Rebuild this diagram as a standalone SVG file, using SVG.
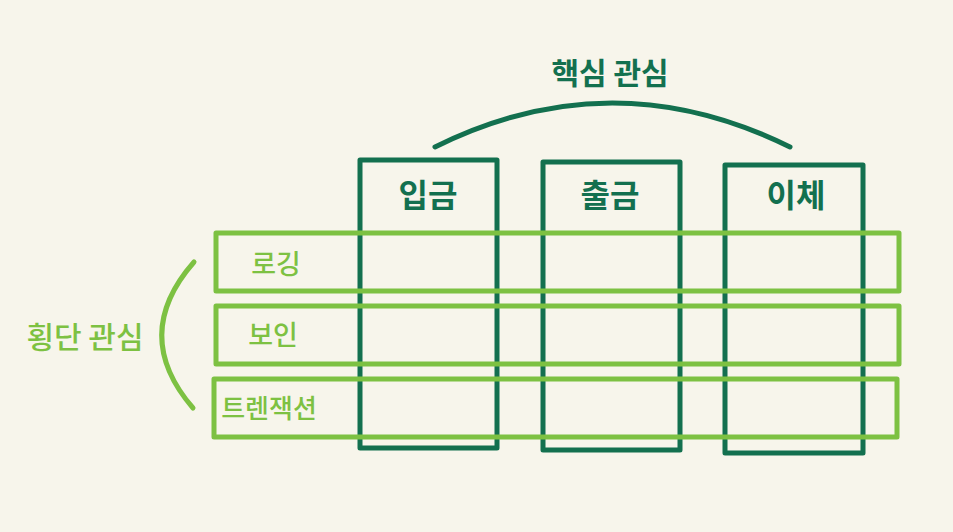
<svg xmlns="http://www.w3.org/2000/svg" width="953" height="532" viewBox="0 0 953 532">
<style>
.col{fill:none;stroke:#13704f;stroke-width:5;stroke-linejoin:round}
.row{fill:none;stroke:#7dc142;stroke-width:5;stroke-linejoin:round}
.dt{font-family:"Noto Sans CJK KR",sans-serif;font-weight:700;fill:#13704f;text-anchor:middle}
.lt{font-family:"Noto Sans CJK KR",sans-serif;font-weight:500;fill:#7dc142;text-anchor:middle}
</style>
<rect width="953" height="532" fill="#f7f5eb"/>
<g id="connectors">
<path d="M435,147 Q612,59 790,147" fill="none" stroke="#13704f" stroke-width="5" stroke-linecap="round"/>
<path d="M194,262 Q130,335 193,408" fill="none" stroke="#7dc142" stroke-width="5" stroke-linecap="round"/>
</g>
<g id="core-label"><text class="dt" x="610" y="84" font-size="30">핵심 관심</text></g>
<g id="cross-label"><text class="lt" x="85" y="348" font-size="30" font-weight="700">횡단 관심</text></g>
<g id="col-deposit"><rect class="col" x="360" y="160" width="137" height="288"/><text class="dt" x="428" y="207" font-size="32">입금</text></g>
<g id="col-withdraw"><rect class="col" x="543" y="162" width="137" height="288"/><text class="dt" x="610" y="207" font-size="32">출금</text></g>
<g id="col-transfer"><rect class="col" x="725" y="165" width="138" height="288"/><text class="dt" x="796" y="207" font-size="32">이체</text></g>
<g id="row-logging"><rect class="row" x="216" y="233" width="683" height="58"/><text class="lt" x="276" y="274" font-size="27">로깅</text></g>
<g id="row-security"><rect class="row" x="216" y="306" width="683" height="58"/><text class="lt" x="273" y="345" font-size="27">보인</text></g>
<g id="row-transaction"><rect class="row" x="214" y="379" width="683" height="58"/><text class="lt" x="269" y="418" font-size="26">트렌잭션</text></g>
</svg>
